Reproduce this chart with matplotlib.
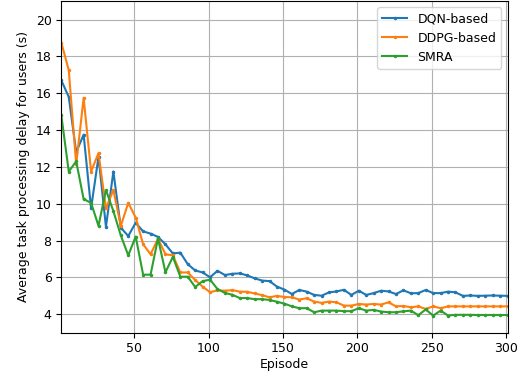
import matplotlib
matplotlib.use("Agg")
import matplotlib.pyplot as plt
import numpy as np

plt.rcParams['font.size'] = 9

# episodes (one point every 5 episodes)
episode = np.arange(1, 302, 5)

dqn = [16.7, 15.8, 12.8, 13.75, 9.75, 12.55, 8.75, 11.75, 8.7, 8.25,
       8.97, 8.5, 8.38, 8.2, 7.8, 7.3, 7.35, 6.72, 6.38, 6.27,
       6.01, 6.36, 6.13, 6.2, 6.22, 6.11, 5.95, 5.83, 5.8, 5.5,
       5.34, 5.1, 5.32, 5.23, 5.05, 5.01, 5.19, 5.24, 5.33, 5.05,
       5.28, 5.05, 5.15, 5.28, 5.24, 5.1, 5.3, 5.14, 5.15, 5.32,
       5.15, 5.15, 5.23, 5.19, 5.0, 5.02, 5.0, 5.01, 5.02, 5.01, 5.0]
ddpg = [18.75, 17.25, 12.15, 15.75, 11.75, 12.75, 9.75, 10.75, 8.8, 10.05,
        9.25, 7.8, 7.26, 8.1, 7.26, 7.2, 6.27, 6.27, 5.86, 5.5,
        5.2, 5.3, 5.28, 5.31, 5.23, 5.22, 5.13, 5.04, 4.92, 5.0,
        4.94, 4.92, 4.8, 4.87, 4.69, 4.62, 4.69, 4.65, 4.47, 4.47,
        4.56, 4.53, 4.56, 4.53, 4.65, 4.43, 4.45, 4.38, 4.43, 4.29,
        4.43, 4.33, 4.43, 4.43, 4.43, 4.43, 4.43, 4.43, 4.43, 4.43, 4.43]
smra = [14.8, 11.75, 12.3, 10.25, 10.05, 8.8, 10.75, 9.6, 8.28, 7.2,
        8.22, 6.15, 6.15, 8.12, 6.28, 7.12, 6.04, 6.04, 5.48, 5.8,
        5.88, 5.37, 5.16, 5.06, 4.88, 4.88, 4.82, 4.82, 4.78, 4.68,
        4.58, 4.43, 4.33, 4.33, 4.11, 4.2, 4.2, 4.2, 4.17, 4.17,
        4.33, 4.2, 4.24, 4.15, 4.11, 4.11, 4.16, 4.2, 3.95, 4.26,
        3.93, 4.2, 3.93, 3.97, 3.97, 3.97, 3.96, 3.96, 3.96, 3.96, 3.96]

fig = plt.figure(figsize=(5.3, 3.74), dpi=100)
ax = fig.add_axes([0.1157, 0.1104, 0.8419, 0.8866])

ax.plot(episode, dqn, marker='.', markersize=3, linewidth=1.5, label="DQN-based")
ax.plot(episode, ddpg, marker='.', markersize=3, linewidth=1.5, label="DDPG-based")
ax.plot(episode, smra, marker='.', markersize=3, linewidth=1.5, label="SMRA")

ax.set_xlim(episode[0], episode[-1])
ax.set_ylim(3, 21)
ax.set_yticks([4, 6, 8, 10, 12, 14, 16, 18, 20])
ax.set_xticks([50, 100, 150, 200, 250, 300])
ax.set_xlabel("Episode", labelpad=2)
ax.set_ylabel("Average task processing delay for users (s)")
ax.grid(True)
ax.legend(loc="upper right")

fig.savefig("out.png", dpi=100)
